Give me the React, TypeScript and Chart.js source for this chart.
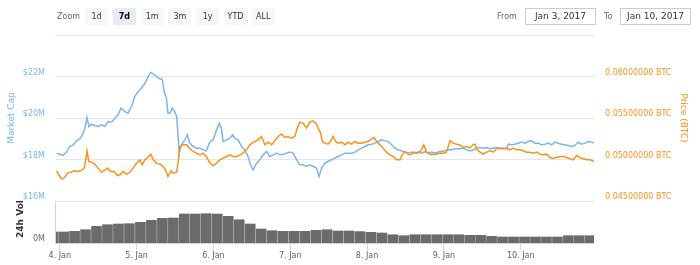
import React, { useEffect, useRef } from 'react';
import { Chart, registerables } from 'chart.js';

Chart.register(...registerables);

// Hours since 4 Jan 2017 00:00 and market cap in $M
const capHours = [
  -1.0, 0.0, 1.0, 2.1, 3.1, 4.2, 5.2, 6.3, 7.3, 8.0,
  8.5, 9.1, 9.9, 10.9, 12.0, 13.0, 14.1, 15.1, 16.2, 17.2,
  18.2, 19.1, 20.3, 21.3, 22.4, 23.4, 24.5, 25.5, 26.6, 27.6,
  28.4, 29.2, 30.2, 31.3, 32.0, 32.6, 33.3, 33.8, 34.4, 35.1,
  35.9, 36.5, 37.0, 37.3, 38.0, 39.1, 39.9, 40.6, 41.7, 42.7,
  43.8, 44.8, 45.8, 46.9, 47.9, 49.0, 49.8, 50.5, 51.0, 52.1,
  53.1, 54.0, 54.7, 55.7, 56.8, 57.8, 58.8, 59.6, 60.4, 61.5,
  62.5, 63.5, 64.6, 65.6, 66.7, 67.7, 68.8, 69.8, 70.8, 71.9,
  72.9, 74.0, 75.0, 76.0, 77.1, 78.1, 79.2, 80.2, 81.0, 81.8,
  82.8, 83.8, 84.9, 85.9, 87.0, 88.0, 89.1, 90.1, 91.2, 92.2,
  93.2, 94.3, 95.3, 96.3, 97.4, 98.4, 99.5, 100.5, 101.6, 102.6,
  103.7, 104.7, 105.7, 106.8, 107.8, 108.8, 109.9, 110.9, 112.0, 113.0,
  114.1, 115.1, 116.2, 117.2, 118.2, 119.3, 120.3, 121.3, 122.4, 123.4,
  125.0, 126.0, 127.1, 128.1, 129.2, 130.2, 131.3, 132.3, 133.3, 134.4,
  135.4, 136.5, 137.5, 138.5, 139.6, 140.1, 141.2, 142.2, 143.2, 144.3,
  145.3, 146.3, 147.4, 148.4, 149.5, 150.5, 151.6, 152.6, 153.7, 154.7,
  155.7, 156.8, 157.8, 158.8, 159.9, 160.9, 162.0, 163.0, 164.1, 165.1,
  166.2, 167.0,
];
const capValues = [
  18.32, 18.27, 18.21, 18.37, 18.64, 18.72, 18.91, 19.01, 19.28, 19.60,
  20.03, 19.60, 19.71, 19.65, 19.60, 19.68, 19.60, 19.84, 19.81, 20.00,
  20.16, 20.48, 20.32, 20.24, 20.56, 21.04, 21.28, 21.44, 21.68, 22.00,
  22.21, 22.12, 22.00, 21.89, 21.89, 21.28, 20.96, 20.24, 20.24, 20.48,
  20.32, 20.08, 19.04, 18.29, 18.72, 18.96, 19.20, 18.80, 18.64, 18.56,
  18.56, 18.48, 18.43, 18.88, 18.96, 19.44, 19.76, 19.52, 18.88, 18.96,
  19.04, 19.20, 19.04, 18.96, 18.64, 18.48, 18.16, 17.76, 17.52, 17.84,
  18.00, 18.24, 18.40, 18.16, 18.24, 18.32, 18.24, 18.27, 18.32, 18.37,
  18.32, 18.00, 17.76, 17.76, 17.68, 17.76, 17.68, 17.60, 17.20, 17.60,
  17.84, 17.92, 18.00, 18.08, 18.16, 18.24, 18.32, 18.32, 18.32, 18.37,
  18.48, 18.56, 18.64, 18.72, 18.75, 18.80, 18.88, 18.96, 18.91, 18.88,
  18.72, 18.56, 18.48, 18.43, 18.37, 18.32, 18.37, 18.32, 18.37, 18.32,
  18.40, 18.32, 18.37, 18.32, 18.37, 18.40, 18.43, 18.48, 18.48, 18.53,
  18.53, 18.56, 18.48, 18.43, 18.48, 18.56, 18.59, 18.56, 18.59, 18.53,
  18.56, 18.59, 18.56, 18.56, 18.53, 18.75, 18.72, 18.75, 18.80, 18.85,
  18.80, 18.88, 18.91, 18.80, 18.80, 18.72, 18.75, 18.80, 18.72, 18.85,
  18.80, 18.75, 18.72, 18.69, 18.64, 18.69, 18.85, 18.75, 18.80, 18.88,
  18.85, 18.80,
];

// Hours since 4 Jan 2017 00:00 and price in BTC
const priceHours = [
  -1.0, -0.3, 0.5, 1.3, 2.4, 3.4, 4.5, 5.5, 6.6, 7.6,
  8.1, 8.5, 9.1, 9.9, 10.9, 12.0, 13.0, 13.8, 14.9, 15.9,
  17.0, 18.0, 18.8, 19.8, 20.8, 21.9, 22.9, 24.0, 25.0, 25.7,
  26.6, 27.8, 28.4, 29.2, 30.2, 31.3, 32.3, 33.3, 33.8, 34.7,
  35.4, 36.5, 37.0, 37.5, 38.5, 39.6, 40.6, 41.7, 42.7, 43.8,
  44.8, 45.8, 46.9, 47.9, 49.0, 50.0, 51.0, 52.1, 53.1, 54.2,
  55.2, 56.3, 57.3, 58.3, 59.4, 60.4, 61.5, 62.5, 63.0, 64.1,
  65.1, 66.2, 67.2, 68.2, 69.3, 70.3, 71.3, 72.4, 73.4, 74.2,
  75.0, 76.0, 77.1, 78.1, 79.0, 80.0, 80.7, 81.5, 82.1, 82.8,
  83.8, 84.9, 85.4, 86.2, 87.0, 88.0, 89.1, 90.1, 91.2, 92.2,
  93.2, 94.3, 95.3, 96.3, 97.4, 98.2, 99.0, 100.0, 101.0, 102.1,
  103.1, 104.2, 105.2, 106.3, 107.0, 107.8, 108.8, 109.7, 110.7, 111.8,
  112.8, 113.7, 114.6, 115.6, 116.7, 117.7, 118.8, 119.8, 120.8, 121.9,
  122.9, 124.0, 125.0, 126.0, 127.1, 128.1, 129.0, 129.7, 130.4, 131.3,
  132.3, 133.3, 134.4, 135.4, 136.5, 137.5, 138.5, 139.6, 140.6, 141.7,
  142.7, 143.8, 144.8, 145.8, 146.9, 147.9, 149.0, 150.0, 151.0, 152.1,
  153.1, 154.2, 155.2, 156.3, 157.3, 158.3, 159.4, 160.4, 161.5, 162.5,
  163.5, 164.6, 165.6, 167.0,
];
const priceValues = [
  0.04868, 0.04820, 0.04772, 0.04780, 0.04840, 0.04852, 0.04868, 0.04859, 0.04868, 0.04900,
  0.05000, 0.05108, 0.04979, 0.04972, 0.04948, 0.04900, 0.04852, 0.04868, 0.04900, 0.04859,
  0.04859, 0.04811, 0.04820, 0.04859, 0.04828, 0.04852, 0.04900, 0.04960, 0.05000, 0.04940,
  0.05000, 0.05039, 0.05068, 0.05000, 0.04960, 0.04948, 0.04919, 0.04859, 0.04799, 0.04868,
  0.04840, 0.04852, 0.04979, 0.05160, 0.05180, 0.05180, 0.05132, 0.05100, 0.05080, 0.05060,
  0.05080, 0.05039, 0.04960, 0.04931, 0.04960, 0.05000, 0.05020, 0.05039, 0.05060, 0.05039,
  0.05039, 0.05060, 0.05080, 0.05120, 0.05180, 0.05212, 0.05228, 0.05260, 0.05280, 0.05180,
  0.05212, 0.05180, 0.05228, 0.05280, 0.05309, 0.05268, 0.05280, 0.05260, 0.05280, 0.05381,
  0.05453, 0.05441, 0.05381, 0.05453, 0.05468, 0.05441, 0.05381, 0.05321, 0.05220, 0.05200,
  0.05188, 0.05240, 0.05280, 0.05220, 0.05200, 0.05212, 0.05180, 0.05212, 0.05188, 0.05220,
  0.05200, 0.05200, 0.05212, 0.05220, 0.05252, 0.05268, 0.05220, 0.05180, 0.05140, 0.05092,
  0.05060, 0.05039, 0.05000, 0.05000, 0.05060, 0.05100, 0.05068, 0.05060, 0.05092, 0.05080,
  0.05108, 0.05180, 0.05092, 0.05068, 0.05068, 0.05068, 0.05080, 0.05080, 0.05092, 0.05228,
  0.05200, 0.05188, 0.05180, 0.05148, 0.05160, 0.05140, 0.05180, 0.05188, 0.05120, 0.05092,
  0.05068, 0.05092, 0.05108, 0.05092, 0.05132, 0.05140, 0.05132, 0.05140, 0.05120, 0.05140,
  0.05120, 0.05120, 0.05108, 0.05092, 0.05092, 0.05080, 0.05092, 0.05068, 0.05060, 0.05068,
  0.05027, 0.05020, 0.05027, 0.05039, 0.05039, 0.05027, 0.05012, 0.05000, 0.05051, 0.05027,
  0.05012, 0.05000, 0.05000, 0.04979,
];

// 24h volume bars (hours since 4 Jan 00:00, $M)
const volHours = [
  -2.24, 1.19, 4.62, 8.05, 11.48, 14.90, 18.33, 21.76, 25.19, 28.62,
  32.05, 35.48, 38.90, 42.33, 45.76, 49.19, 52.62, 56.05, 59.48, 62.90,
  66.33, 69.76, 73.19, 76.62, 80.05, 83.48, 86.90, 90.33, 93.76, 97.19,
  100.62, 104.05, 107.48, 110.90, 114.33, 117.76, 121.19, 124.62, 128.05, 131.48,
  134.90, 138.33, 141.76, 145.19, 148.62, 152.05, 155.48, 158.90, 162.33, 165.76,
];
const volValues = [
  0.110, 0.110, 0.117, 0.133, 0.167, 0.183, 0.190, 0.193, 0.207, 0.227,
  0.247, 0.250, 0.290, 0.290, 0.293, 0.290, 0.267, 0.233, 0.190, 0.140,
  0.123, 0.117, 0.117, 0.117, 0.127, 0.133, 0.120, 0.120, 0.114, 0.107,
  0.100, 0.083, 0.073, 0.083, 0.083, 0.083, 0.083, 0.083, 0.077, 0.077,
  0.067, 0.060, 0.060, 0.060, 0.060, 0.060, 0.060, 0.073, 0.073, 0.073,
];

const capTicks = [16, 18, 20, 22, 24];
const priceTicks = [0.045, 0.05, 0.055, 0.06, 0.065];
const dayTicks = [0, 24, 48, 72, 96, 120, 144];
const dayLabels = ['4. Jan', '5. Jan', '6. Jan', '7. Jan', '8. Jan', '9. Jan', '10. Jan'];
const zoomButtons = ['1d', '7d', '1m', '3m', '1y', 'YTD', 'ALL'];
const selectedButton = '7d';
const fromDate = 'Jan 3, 2017';
const toDate = 'Jan 10, 2017';

const FONT = '"DejaVu Sans", sans-serif';
const BLUE = '#7cb5ec';
const ORANGE = '#f7931a';

export default function App() {
  const ref = useRef<HTMLCanvasElement>(null);

  useEffect(() => {
    const canvas = ref.current;
    if (!canvas) return;

    const panePlugin = {
      id: 'panePlugin',
      afterDraw(chart: any) {
        const { ctx, chartArea } = chart;
        const yCap = chart.scales.y;
        const yVol = chart.scales.y2;
        const paneSplit = Math.round(yCap.getPixelForValue(16));
        ctx.save();
        // volume pane left axis line
        ctx.strokeStyle = '#ccd6eb';
        ctx.lineWidth = 1;
        ctx.beginPath();
        ctx.moveTo(Math.round(chartArea.left) + 0.5, paneSplit + 0.5);
        ctx.lineTo(Math.round(chartArea.left) + 0.5, chartArea.bottom);
        ctx.stroke();

        // 0M label
        ctx.font = `8px ${FONT}`;
        ctx.fillStyle = '#666666';
        ctx.textAlign = 'right';
        ctx.textBaseline = 'middle';
        ctx.fillText('0M', chartArea.left - 10, yVol.getPixelForValue(0) - 4);

        const mainMid = (chartArea.top + paneSplit) / 2;
        const volMid = (paneSplit + chartArea.bottom) / 2;
        ctx.textAlign = 'center';

        ctx.save();
        ctx.translate(12, mainMid);
        ctx.rotate(-Math.PI / 2);
        ctx.font = `9px ${FONT}`;
        ctx.fillStyle = BLUE;
        ctx.fillText('Market Cap', 0, 0);
        ctx.restore();

        ctx.save();
        ctx.translate(21, volMid - 3);
        ctx.rotate(-Math.PI / 2);
        ctx.font = `bold 9px ${FONT}`;
        ctx.fillStyle = '#333333';
        ctx.fillText('24h Vol', 0, 0);
        ctx.restore();

        ctx.save();
        ctx.translate(683, mainMid);
        ctx.rotate(Math.PI / 2);
        ctx.font = `9px ${FONT}`;
        ctx.fillStyle = ORANGE;
        ctx.fillText('Price (BTC)', 0, 0);
        ctx.restore();

        ctx.restore();
      },
    };

    const chart = new Chart(canvas, {
      type: 'line',
      data: {
        datasets: [
          {
            type: 'line',
            label: 'Price (BTC)',
            data: priceHours.map((h, i) => ({ x: h, y: priceValues[i] })),
            yAxisID: 'y1',
            borderColor: ORANGE,
            borderWidth: 1.5,
            pointRadius: 0,
            tension: 0,
            order: 1,
            clip: 0,
          } as any,
          {
            type: 'line',
            label: 'Market Cap',
            data: capHours.map((h, i) => ({ x: h, y: capValues[i] })),
            yAxisID: 'y',
            borderColor: BLUE,
            borderWidth: 1.5,
            pointRadius: 0,
            tension: 0,
            order: 2,
            clip: 0,
          } as any,
          {
            type: 'bar',
            label: '24h Vol',
            data: volHours.map((h, i) => ({ x: h, y: volValues[i] })),
            yAxisID: 'y2',
            backgroundColor: '#6b6b6b',
            borderWidth: 0,
            barThickness: 10,
            order: 3,
            clip: 0,
          } as any,
        ],
      },
      options: {
        responsive: false,
        animation: false,
        layout: { padding: { top: 35, left: 0, right: 0, bottom: 0 } },
        plugins: { legend: { display: false }, tooltip: { enabled: false } },
        scales: {
          x: {
            type: 'linear',
            min: -1.5,
            max: 166.9,
            offset: false,
            afterFit(s: any) { s.height = 22; },
            afterBuildTicks(s: any) { s.ticks = dayTicks.map((v) => ({ value: v })); },
            ticks: {
              autoSkip: false,
              maxRotation: 0,
              padding: 1,
              color: '#606060',
              font: { family: FONT, size: 8 },
              callback: (v: any) => dayLabels[dayTicks.indexOf(Number(v))] ?? '',
            },
            grid: { drawOnChartArea: false, color: '#ccd6eb', tickLength: 7, offset: false },
            border: { display: true, color: '#ccd6eb' },
          },
          y: {
            type: 'linear',
            position: 'left',
            min: 14,
            max: 24,
            afterFit(s: any) { s.width = 55; },
            afterBuildTicks(s: any) { s.ticks = capTicks.map((v) => ({ value: v })); },
            ticks: {
              color: BLUE,
              padding: 10,
              labelOffset: -4,
              font: { family: FONT, size: 8 },
              callback: (v: any) => (Number(v) >= 23.9 ? '' : `$${v}M`),
            },
            grid: { color: '#e6e6e6', drawTicks: false },
            border: { display: false },
          },
          y1: {
            type: 'linear',
            position: 'right',
            min: 0.04,
            max: 0.065,
            afterFit(s: any) { s.width = 106; },
            afterBuildTicks(s: any) { s.ticks = priceTicks.map((v) => ({ value: v })); },
            ticks: {
              color: ORANGE,
              padding: 11,
              labelOffset: -4,
              font: { family: FONT, size: 8 },
              callback: (v: any) => (Number(v) >= 0.0649 ? '' : `${Number(v).toFixed(8)} BTC`),
            },
            grid: { display: false, drawTicks: false },
            border: { display: false },
          },
          y2: {
            type: 'linear',
            display: false,
            min: 0,
            max: 2.08,
          },
        },
      } as any,
      plugins: [panePlugin],
    });

    return () => chart.destroy();
  }, []);

  const btnLeft = (i: number) => 85 + i * 27.8;

  return (
    <div
      style={{
        position: 'fixed',
        left: 0,
        top: 0,
        width: 700,
        height: 265,
        background: '#ffffff',
        fontFamily: FONT,
        overflow: 'hidden',
      }}
    >
      <canvas ref={ref} width={700} height={265} style={{ position: 'absolute', left: 0, top: 0 }} />
      <div style={{ position: 'absolute', left: 57, top: 8, height: 17, lineHeight: '17px', fontSize: 8, color: '#666666' }}>
        Zoom
      </div>
      {zoomButtons.map((b, i) => (
        <div
          key={b}
          style={{
            position: 'absolute',
            left: btnLeft(i),
            top: 8,
            width: 23,
            height: 17,
            lineHeight: '17px',
            textAlign: 'center',
            fontSize: 8,
            borderRadius: 2,
            background: b === selectedButton ? '#e6ebf5' : '#f7f7f7',
            color: b === selectedButton ? '#000000' : '#333333',
            fontWeight: b === selectedButton ? 'bold' : 'normal',
          }}
        >
          {b}
        </div>
      ))}
      <div style={{ position: 'absolute', left: 497, top: 8, height: 17, lineHeight: '17px', fontSize: 8, color: '#666666' }}>
        From
      </div>
      <div
        style={{
          position: 'absolute', left: 525, top: 8, width: 71, height: 17, boxSizing: 'border-box',
          border: '1px solid #cccccc', lineHeight: '15px', textAlign: 'center', fontSize: 9, color: '#333333',
        }}
      >
        {fromDate}
      </div>
      <div style={{ position: 'absolute', left: 604, top: 8, height: 17, lineHeight: '17px', fontSize: 8, color: '#666666' }}>
        To
      </div>
      <div
        style={{
          position: 'absolute', left: 620, top: 8, width: 71, height: 17, boxSizing: 'border-box',
          border: '1px solid #cccccc', lineHeight: '15px', textAlign: 'center', fontSize: 9, color: '#333333',
        }}
      >
        {toDate}
      </div>
    </div>
  );
}
